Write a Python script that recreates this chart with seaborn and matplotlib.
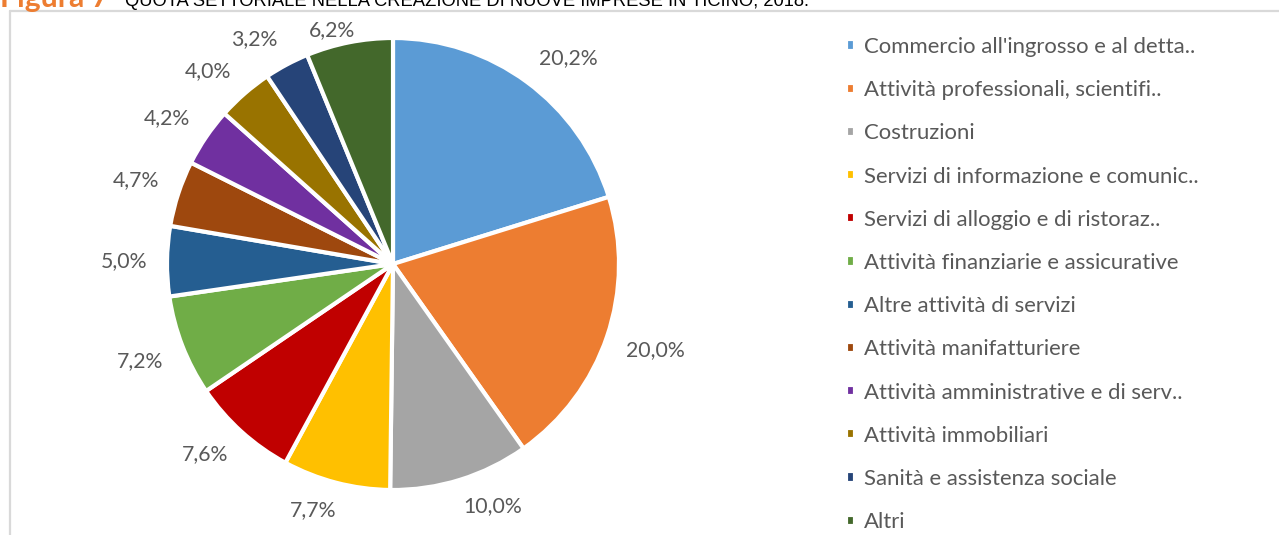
import matplotlib
matplotlib.use("Agg")
import numpy as np
import matplotlib.pyplot as plt
from matplotlib.lines import Line2D
import seaborn as sns

# Sector shares of newly created firms (percent)
sectors = [
    "Commercio all'ingrosso e al detta..",
    "Attività professionali, scientifi..",
    "Costruzioni",
    "Servizi di informazione e comunic..",
    "Servizi di alloggio e di ristoraz..",
    "Attività finanziarie e assicurative",
    "Altre attività di servizi",
    "Attività manifatturiere",
    "Attività amministrative e di serv..",
    "Attività immobiliari",
    "Sanità e assistenza sociale",
    "Altri",
]
shares = [20.2, 20.0, 10.0, 7.7, 7.6, 7.2, 5.0, 4.7, 4.2, 4.0, 3.2, 6.2]
colors = [
    "#5B9BD5", "#ED7D31", "#A5A5A5", "#FFC000", "#C00000", "#70AD47",
    "#255E91", "#9E480E", "#7030A0", "#997300", "#264478", "#43682B",
]
title_prefix = "Figura 7"
title_text = "QUOTA SETTORIALE NELLA CREAZIONE DI NUOVE IMPRESE IN TICINO, 2018."

sns.set_theme(style="white")
plt.rcParams["font.family"] = ["Lato", "DejaVu Sans"]

W, H = 1279, 535
fig = plt.figure(figsize=(W / 100, H / 100), dpi=100)
renderer = fig.canvas.get_renderer()


def fit_width(text, target_px):
    """Rescale a text's font size so its rendered width is target_px."""
    w = text.get_window_extent(renderer).width
    text.set_fontsize(text.get_fontsize() * target_px / w)


# Pie axes: square box centred on the pie
cx, cy, r = 393, 264, 226
ax = fig.add_axes([(cx - r) / W, (H - cy - r) / H, 2 * r / W, 2 * r / H])
pct_labels = [f"{v:.1f}%".replace(".", ",") for v in shares]
wedges, texts = ax.pie(
    shares,
    labels=pct_labels,
    colors=colors,
    startangle=90,
    counterclock=False,
    labeldistance=1.2,
    wedgeprops=dict(edgecolor="white", linewidth=3),
    textprops=dict(color="#595959", fontsize=15),
)
ax.set_xlim(-1, 1)
ax.set_ylim(-1, 1)

# Size the percentage labels from the widest one
fit_width(texts[2], 59)
for t in texts:
    t.set_fontsize(texts[2].get_fontsize())
    t.set_ha("center")
    t.set_va("center")

# Place each label just outside its wedge, box corner facing the pie
gap = 20 / r
y_top = (cy - 30) / r
for w, t in zip(wedges, texts):
    th = np.deg2rad((w.theta1 + w.theta2) / 2)
    c, s = np.cos(th), np.sin(th)
    bb = t.get_window_extent(renderer)
    hw, hh = bb.width / 2 / r, bb.height * 0.38 / r
    x = (1 + gap) * c + hw * np.clip(3 * c, -1, 1)
    y = (1 + gap) * s + hh * np.clip(3 * s, -1, 1)
    t.set_position((x, min(y, y_top)))


# Legend on the right
def make_legend(fs, spacing, top_px):
    return fig.legend(
        wedges, sectors,
        loc="upper left",
        bbox_to_anchor=(846 / W, 1 - top_px / H),
        frameon=False,
        fontsize=fs,
        labelcolor="#595959",
        handlelength=0.4,
        handleheight=0.4,
        handletextpad=0.42,
        labelspacing=spacing,
        borderpad=0,
        borderaxespad=0,
    )


leg = make_legend(15, 1.2, 38)
fit_width(leg.get_texts()[0], 333)
fs = leg.get_texts()[0].get_fontsize()
leg.remove()
leg = make_legend(fs, 1.2, 38)
fig.canvas.draw()
ys = [tt.get_window_extent(renderer) for tt in leg.get_texts()]
step = ((ys[0].y0 + ys[0].y1) - (ys[-1].y0 + ys[-1].y1)) / 2 / (len(ys) - 1)
spacing = 1.2 + (43.2 - step) / (fs * 100 / 72)
leg.remove()
leg = make_legend(fs, spacing, 38)
fig.canvas.draw()
b0 = leg.get_texts()[0].get_window_extent(renderer)
shift = (H - (b0.y0 + b0.y1) / 2) - 47
leg.remove()
leg = make_legend(fs, spacing, 38 - shift)

# Chart frame (top and left edges)
frame_col = "#D9D9D9"
fig.add_artist(Line2D([10 / W, 10 / W], [0, 1 - 11 / H], color=frame_col, lw=1.6,
                      transform=fig.transFigure))
fig.add_artist(Line2D([10 / W, 1], [1 - 11 / H, 1 - 11 / H], color=frame_col, lw=1.6,
                      transform=fig.transFigure))

# Figure caption along the top edge
t1 = fig.text(0, 1 - 6.5 / H, title_prefix, color="#ED7D31", fontsize=14,
              fontweight="bold", va="baseline", ha="left")
fit_width(t1, 110)
t2 = fig.text(125 / W, 1 - 6.5 / H, title_text, color="black", fontsize=12,
              family=["Liberation Sans", "DejaVu Sans"], va="baseline", ha="left")
fit_width(t2, 685)

fig.savefig("out.png", dpi=100)
